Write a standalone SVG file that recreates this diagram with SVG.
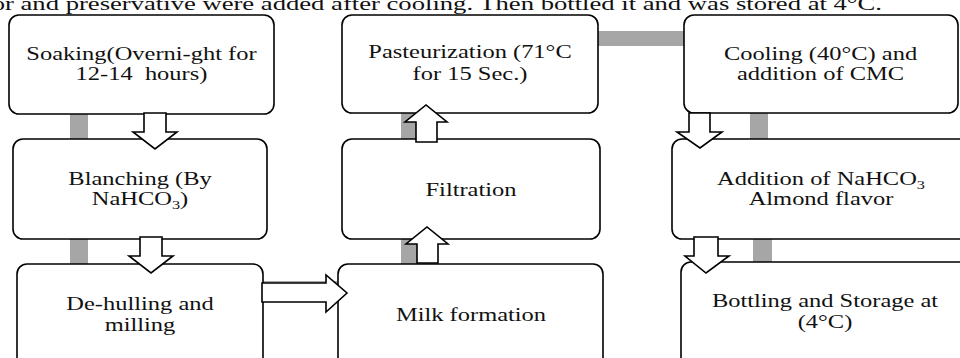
<svg xmlns="http://www.w3.org/2000/svg" width="960" height="358" viewBox="0 0 960 358">
<style>
.box{fill:#fff;stroke:#000;stroke-width:1.6}
.bar{fill:#a6a6a6}
.arr{fill:#fff;stroke:#000;stroke-width:1.6;stroke-linejoin:miter}
text{font-family:"Liberation Serif","Times New Roman",serif;font-size:18px;fill:#111}
.c{text-anchor:middle}
.sub{font-size:12px}
</style>
<rect width="960" height="358" fill="#fff"/>
<text transform="translate(-8.3,10) scale(1.36,1)" style="font-size:19.6px">or and preservative were added after cooling. Then bottled it and was stored at 4°C.</text>

<g id="connectors">
  <rect class="bar" x="70" y="113" width="18" height="27"/>
  <rect class="bar" x="70" y="238" width="18" height="27"/>
  <rect class="bar" x="401" y="112" width="16" height="28"/>
  <rect class="bar" x="401" y="238" width="16" height="27"/>
  <rect class="bar" x="597" y="31" width="88" height="15"/>
  <rect class="bar" x="750" y="112" width="18" height="28"/>
  <rect class="bar" x="753" y="238" width="19" height="25"/>
  <rect class="bar" x="262" y="281" width="77" height="15"/>
</g>

<g id="n1"><rect class="box" x="9" y="15" width="265" height="99" rx="10"/>
  <text class="c" transform="translate(141.5,60) scale(1.36,1)">Soaking(Overni-ght for</text>
  <text class="c" transform="translate(141.5,80) scale(1.36,1)">12-14&#160; hours)</text></g>
<g id="n2"><rect class="box" x="13" y="139" width="254" height="100" rx="10"/>
  <text class="c" transform="translate(140,185) scale(1.36,1)">Blanching (By</text>
  <text class="c" transform="translate(140,205) scale(1.36,1)">NaHCO<tspan class="sub" dy="4">3</tspan><tspan dy="-4">)</tspan></text></g>
<g id="n3"><rect class="box" x="17" y="264" width="246" height="120" rx="10"/>
  <text class="c" transform="translate(140,310) scale(1.36,1)">De-hulling and</text>
  <text class="c" transform="translate(140,331) scale(1.36,1)">milling</text></g>
<g id="n4"><rect class="box" x="342" y="15" width="256" height="98" rx="10"/>
  <text class="c" transform="translate(470,58) scale(1.36,1)">Pasteurization (71°C</text>
  <text class="c" transform="translate(470,80) scale(1.36,1)">for 15 Sec.)</text></g>
<g id="n5"><rect class="box" x="342" y="139" width="258" height="100" rx="10"/>
  <text class="c" transform="translate(471,196) scale(1.36,1)">Filtration</text></g>
<g id="n6"><rect class="box" x="338" y="264" width="265" height="120" rx="10"/>
  <text class="c" transform="translate(471,321) scale(1.36,1)">Milk formation</text></g>
<g id="n7"><rect class="box" x="684" y="15" width="274" height="98" rx="10"/>
  <text class="c" transform="translate(820.5,60) scale(1.36,1)">Cooling (40°C) and</text>
  <text class="c" transform="translate(820.5,80) scale(1.36,1)">addition of CMC</text></g>
<g id="n8"><rect class="box" x="672" y="139" width="310" height="100" rx="10"/>
  <text class="c" transform="translate(821,185) scale(1.36,1)">Addition of NaHCO<tspan class="sub" dy="4">3</tspan></text>
  <text class="c" transform="translate(821,205) scale(1.36,1)">Almond flavor</text></g>
<g id="n9"><rect class="box" x="681" y="262" width="300" height="120" rx="10"/>
  <text class="c" transform="translate(825,307) scale(1.36,1)">Bottling and Storage at</text>
  <text class="c" transform="translate(825,328) scale(1.36,1)">(4°C)</text></g>

<g id="arrows">
  <polygon class="arr" points="144,113 166,113 166,132 177,132 155,149 133,132 144,132"/>
  <polygon class="arr" points="140,237 162,237 162,256 173,256 151,273 129,256 140,256"/>
  <polygon class="arr" points="416,142 437,142 437,122 447,122 426,105 405,122 416,122"/>
  <polygon class="arr" points="417,263 438,263 438,244 448,244 427,227 406,244 417,244"/>
  <polygon class="arr" points="689,113 710,113 710,132 722,132 700,148 677,132 689,132"/>
  <polygon class="arr" points="694,237 718,237 718,256 729,256 706,273 685,256 694,256"/>
  <polygon class="arr" points="262,283 326,283 326,275 347,293 326,312 326,302 262,302"/>
</g>
</svg>
